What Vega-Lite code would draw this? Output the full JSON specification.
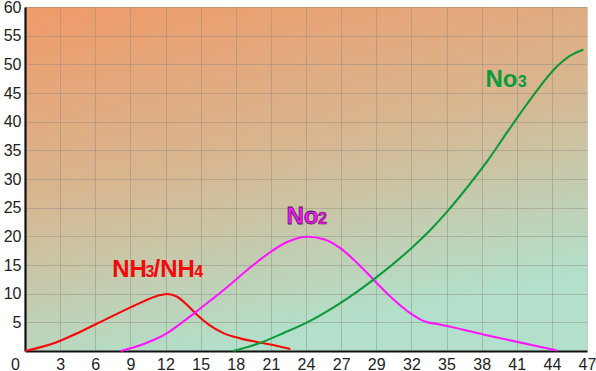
{
  "$schema": "https://vega.github.io/schema/vega-lite/v6.json",
  "width": 562,
  "height": 344,
  "autosize": {"type": "none"},
  "padding": {"left": 25, "top": 7, "right": 9, "bottom": 20},
  "background": "#ffffff",
  "config": {
    "view": {
      "stroke": null,
      "fill": {
        "gradient": "linear",
        "x1": 0, "y1": 0, "x2": 0.35, "y2": 1,
        "stops": [
          {"offset": 0, "color": "#F09A68"},
          {"offset": 0.5, "color": "#D8B690"},
          {"offset": 1, "color": "#B2E0CB"}
        ]
      }
    },
    "axis": {
      "labelFont": "Liberation Sans",
      "labelFontSize": 16,
      "labelColor": "#222222",
      "domainColor": "#111111",
      "domainWidth": 2.2,
      "ticks": false,
      "gridColor": "#8f8a80",
      "gridOpacity": 0.45,
      "gridWidth": 1,
      "title": null
    }
  },
  "datasets": {
    "curves": [
      {"series": "NH3/NH4", "x": 0, "y": 0},
      {"series": "NH3/NH4", "x": 2.41, "y": 1.34},
      {"series": "NH3/NH4", "x": 4.64, "y": 3.37},
      {"series": "NH3/NH4", "x": 6.87, "y": 5.65},
      {"series": "NH3/NH4", "x": 8.82, "y": 7.6},
      {"series": "NH3/NH4", "x": 10.22, "y": 8.95},
      {"series": "NH3/NH4", "x": 11.33, "y": 9.75},
      {"series": "NH3/NH4", "x": 11.9, "y": 9.94},
      {"series": "NH3/NH4", "x": 12.73, "y": 9.47},
      {"series": "NH3/NH4", "x": 13.56, "y": 8.02},
      {"series": "NH3/NH4", "x": 14.4, "y": 6.28},
      {"series": "NH3/NH4", "x": 15.37, "y": 4.6},
      {"series": "NH3/NH4", "x": 16.63, "y": 3.08},
      {"series": "NH3/NH4", "x": 18.0, "y": 2.2},
      {"series": "NH3/NH4", "x": 19.7, "y": 1.45},
      {"series": "NH3/NH4", "x": 21.1, "y": 0.87},
      {"series": "NH3/NH4", "x": 22.2, "y": 0.35},
      {"series": "No2", "x": 7.99, "y": 0},
      {"series": "No2", "x": 9.94, "y": 1.22},
      {"series": "No2", "x": 11.89, "y": 3.1},
      {"series": "No2", "x": 13.0, "y": 4.75},
      {"series": "No2", "x": 14.26, "y": 6.75},
      {"series": "No2", "x": 15.51, "y": 8.8},
      {"series": "No2", "x": 16.77, "y": 10.9},
      {"series": "No2", "x": 18.86, "y": 14.6},
      {"series": "No2", "x": 20.55, "y": 17.3},
      {"series": "No2", "x": 21.93, "y": 19.0},
      {"series": "No2", "x": 23.6, "y": 19.94},
      {"series": "No2", "x": 24.99, "y": 19.5},
      {"series": "No2", "x": 26.4, "y": 17.9},
      {"series": "No2", "x": 27.8, "y": 15.3},
      {"series": "No2", "x": 29.17, "y": 12.4},
      {"series": "No2", "x": 30.57, "y": 9.47},
      {"series": "No2", "x": 32.24, "y": 6.58},
      {"series": "No2", "x": 33.5, "y": 5.1},
      {"series": "No2", "x": 34.5, "y": 4.7},
      {"series": "No2", "x": 38.4, "y": 2.85},
      {"series": "No2", "x": 44.5, "y": 0.1},
      {"series": "No3", "x": 17.41, "y": 0},
      {"series": "No3", "x": 19.7, "y": 1.45},
      {"series": "No3", "x": 21.64, "y": 3.15},
      {"series": "No3", "x": 23.6, "y": 5.0},
      {"series": "No3", "x": 26.4, "y": 8.4},
      {"series": "No3", "x": 29.17, "y": 12.5},
      {"series": "No3", "x": 32.24, "y": 17.8},
      {"series": "No3", "x": 33.9, "y": 21.1},
      {"series": "No3", "x": 35.3, "y": 24.3},
      {"series": "No3", "x": 37.0, "y": 28.6},
      {"series": "No3", "x": 38.66, "y": 33.1},
      {"series": "No3", "x": 40.04, "y": 37.3},
      {"series": "No3", "x": 41.44, "y": 41.5},
      {"series": "No3", "x": 42.84, "y": 45.5},
      {"series": "No3", "x": 44.2, "y": 49.0},
      {"series": "No3", "x": 45.6, "y": 51.5},
      {"series": "No3", "x": 46.7, "y": 52.6}
    ],
    "labels": [
      {"series": "NH3/NH4", "part": "main", "x": 7.29, "y": 12.96, "text": "NH"},
      {"series": "NH3/NH4", "part": "sub", "x": 10.08, "y": 12.96, "text": "3"},
      {"series": "NH3/NH4", "part": "main", "x": 10.75, "y": 12.96, "text": "/NH"},
      {"series": "NH3/NH4", "part": "sub", "x": 14.15, "y": 12.96, "text": "4"},
      {"series": "No2", "part": "main", "x": 21.87, "y": 22.15, "text": "No"},
      {"series": "No2", "part": "sub", "x": 24.5, "y": 22.15, "text": "2"},
      {"series": "No3", "part": "main", "x": 38.51, "y": 46.1, "text": "No"},
      {"series": "No3", "part": "sub", "x": 41.2, "y": 46.1, "text": "3"}
    ]
  },
  "encoding": {
    "x": {
      "field": "x",
      "type": "quantitative",
      "scale": {"domain": [0, 47], "nice": false, "zero": false},
      "axis": {
        "values": [0, 2.9375, 5.875, 8.8125, 11.75, 14.6875, 17.625, 20.5625, 23.5, 26.4375, 29.375, 32.3125, 35.25, 38.1875, 41.125, 44.0625, 47],
        "labelExpr": "['0','3','6','9','12','15','18','21','24','27','29','32','35','38','41','44','47'][round(datum.value*16/47)]",
        "labelPadding": 5,
        "labelFlush": false,
        "labelOffset": {"condition": {"test": "datum.value === 0", "value": -10}, "value": 0},
        "grid": true
      }
    },
    "y": {
      "field": "y",
      "type": "quantitative",
      "scale": {"domain": [0, 60], "nice": false},
      "axis": {
        "values": [5, 10, 15, 20, 25, 30, 35, 40, 45, 50, 55, 60],
        "labelPadding": 4,
        "labelAlign": "right",
        "grid": true
      }
    }
  },
  "layer": [
    {
      "data": {"name": "curves"},
      "mark": {"type": "line", "interpolate": "monotone", "strokeWidth": 2.1},
      "encoding": {
        "color": {
          "field": "series",
          "type": "nominal",
          "scale": {"domain": ["NH3/NH4", "No2", "No3"], "range": ["#F50808", "#FF14FF", "#0C9A3A"]},
          "legend": null
        }
      }
    },
    {
      "data": {"name": "labels"},
      "transform": [{"filter": "datum.part === 'main'"}],
      "mark": {"type": "text", "align": "left", "baseline": "alphabetic", "font": "Liberation Sans", "fontWeight": "bold", "fontSize": 24, "stroke": "#5a1a5a"},
      "encoding": {
        "text": {"field": "text"},
        "strokeWidth": {"condition": {"test": "datum.series === 'No2'", "value": 0.8}, "value": 0},
        "color": {
          "field": "series",
          "type": "nominal",
          "scale": {"domain": ["NH3/NH4", "No2", "No3"], "range": ["#F50808", "#FF14FF", "#0C9A3A"]},
          "legend": null
        }
      }
    },
    {
      "data": {"name": "labels"},
      "transform": [{"filter": "datum.part === 'sub'"}],
      "mark": {"type": "text", "align": "left", "baseline": "alphabetic", "font": "Liberation Sans", "fontWeight": "bold", "fontSize": 16, "stroke": "#5a1a5a"},
      "encoding": {
        "text": {"field": "text"},
        "strokeWidth": {"condition": {"test": "datum.series === 'No2'", "value": 0.7}, "value": 0},
        "color": {
          "field": "series",
          "type": "nominal",
          "scale": {"domain": ["NH3/NH4", "No2", "No3"], "range": ["#F50808", "#FF14FF", "#0C9A3A"]},
          "legend": null
        }
      }
    }
  ]
}
